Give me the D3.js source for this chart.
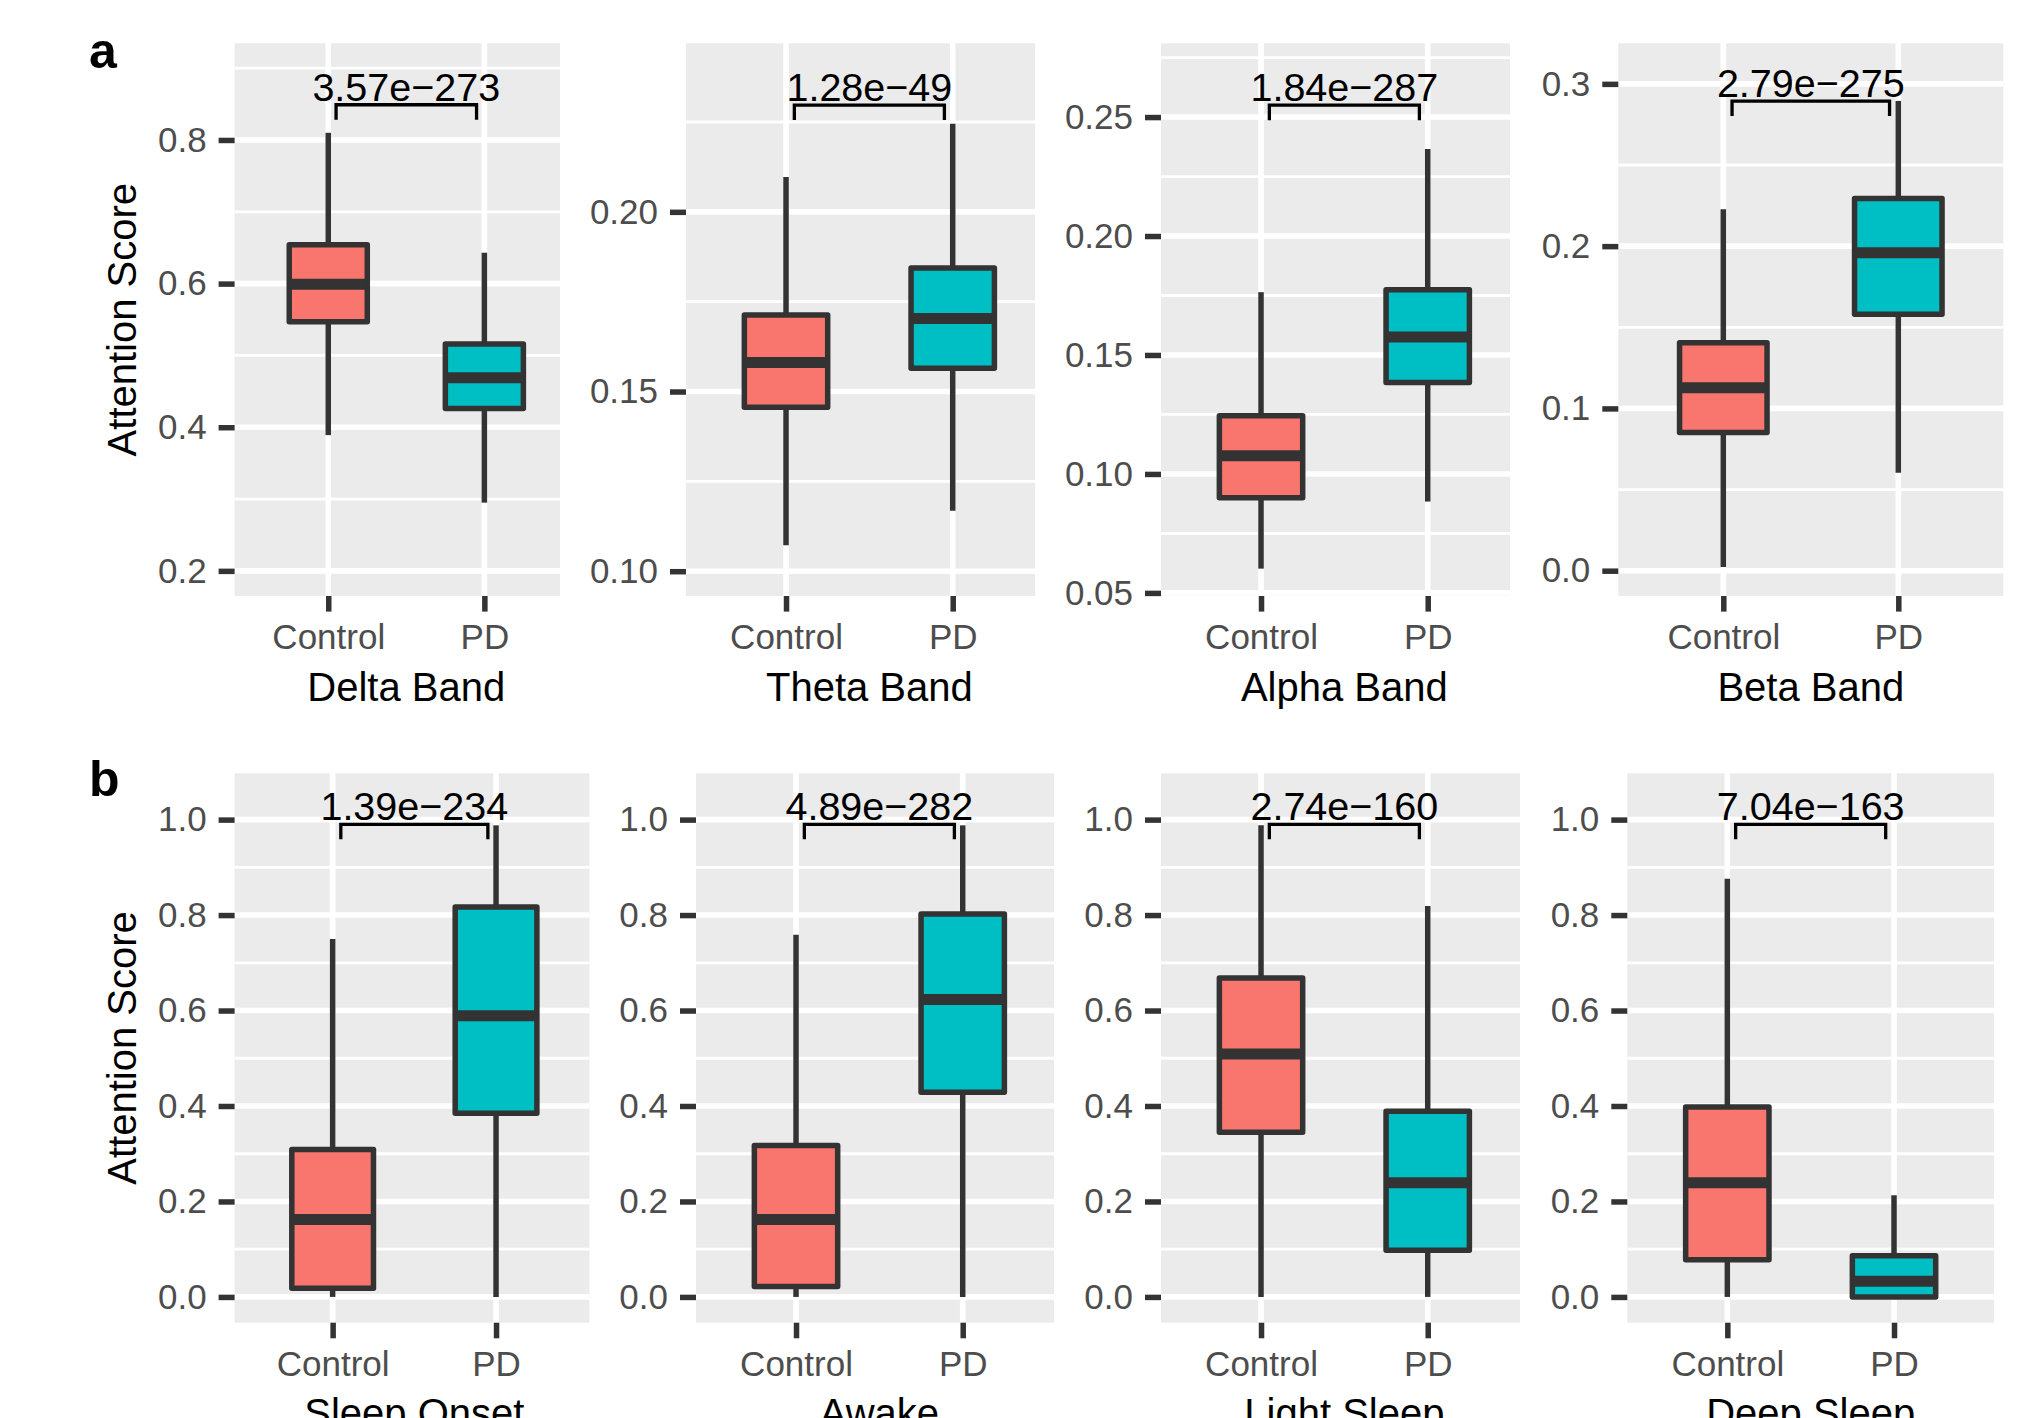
<!DOCTYPE html>
<html>
<head>
<meta charset="utf-8">
<script src="https://cdn.jsdelivr.net/npm/d3@7/dist/d3.min.js"></script>
<style>
  html, body { margin: 0; padding: 0; background: #fff; }
  svg { display: block; font-family: "Liberation Sans", Arial, Helvetica, sans-serif; }
</style>
</head>
<body>
<svg id="chart" width="2017" height="1418"></svg>
<script>
// Groups compared in every panel
const categories = ["Control", "PD"];

// Panel titles (x-axis titles)
const panelTitles = ["Delta Band", "Theta Band", "Alpha Band", "Beta Band",
                     "Sleep Onset", "Awake", "Light Sleep", "Deep Sleep"];

// Wilcoxon p-values shown above each pair
const pValues = ["3.57e\u2212273", "1.28e\u221249", "1.84e\u2212287", "2.79e\u2212275",
                 "1.39e\u2212234", "4.89e\u2212282", "2.74e\u2212160", "7.04e\u2212163"];

// Box statistics: [lower whisker, Q1, median, Q3, upper whisker]
const controlStats = [
  [0.389, 0.547, 0.599, 0.654, 0.810],
  [0.1072, 0.1456, 0.1581, 0.1713, 0.2097],
  [0.0602, 0.0900, 0.1076, 0.1245, 0.1764],
  [0.0022, 0.0851, 0.1127, 0.1405, 0.2228],
  [0.000, 0.018, 0.162, 0.309, 0.750],
  [0.000, 0.022, 0.162, 0.317, 0.759],
  [0.000, 0.345, 0.509, 0.668, 0.988],
  [0.000, 0.078, 0.239, 0.398, 0.876]
];
const pdStats = [
  [0.295, 0.426, 0.469, 0.516, 0.643],
  [0.1168, 0.1565, 0.1703, 0.1844, 0.2245],
  [0.0884, 0.1384, 0.1576, 0.1774, 0.2366],
  [0.0604, 0.1581, 0.1960, 0.2293, 0.2895],
  [0.000, 0.385, 0.589, 0.817, 0.988],
  [0.000, 0.429, 0.623, 0.802, 0.988],
  [0.000, 0.098, 0.239, 0.389, 0.819],
  [0.000, 0.000, 0.033, 0.086, 0.213]
];

// Height of the significance bracket (data units)
const bracketY = [0.849, 0.2297, 0.255, 0.2894, 0.990, 0.990, 0.990, 0.990];

// Y axis ranges
const yDomains = [
  [0.165, 0.9346], [0.0931, 0.2469], [0.0487, 0.281], [-0.0156, 0.325],
  [-0.054, 1.097], [-0.054, 1.097], [-0.054, 1.097], [-0.054, 1.097]
];

// Major ticks, their labels, and minor grid positions
const sleepTicks = [0, 0.2, 0.4, 0.6, 0.8, 1.0];
const sleepLabels = ["0.0", "0.2", "0.4", "0.6", "0.8", "1.0"];
const sleepMinor = [0.1, 0.3, 0.5, 0.7, 0.9];
const yTicks = [
  [0.2, 0.4, 0.6, 0.8], [0.10, 0.15, 0.20], [0.05, 0.10, 0.15, 0.20, 0.25], [0.0, 0.1, 0.2, 0.3],
  sleepTicks, sleepTicks, sleepTicks, sleepTicks
];
const yTickLabels = [
  ["0.2", "0.4", "0.6", "0.8"], ["0.10", "0.15", "0.20"],
  ["0.05", "0.10", "0.15", "0.20", "0.25"], ["0.0", "0.1", "0.2", "0.3"],
  sleepLabels, sleepLabels, sleepLabels, sleepLabels
];
const yMinor = [
  [0.3, 0.5, 0.7, 0.9], [0.125, 0.175, 0.225], [0.075, 0.125, 0.175, 0.225, 0.275], [0.05, 0.15, 0.25],
  sleepMinor, sleepMinor, sleepMinor, sleepMinor
];

// Panel geometry in pixels
const rowA = { top: 43.3, bottom: 596 };
const rowB = { top: 773.3, bottom: 1322.7 };
const layout = [
  { left: 234.6, right: 560,    step: 156.1, ...rowA },
  { left: 686,   right: 1035,   step: 166.7, ...rowA },
  { left: 1161,  right: 1510,   step: 166.7, ...rowA },
  { left: 1618.3, right: 2003.3, step: 175,  ...rowA },
  { left: 234.6, right: 589.4,  step: 163.4, ...rowB },
  { left: 696,   right: 1054,   step: 166.7, ...rowB },
  { left: 1161,  right: 1520,   step: 166.7, ...rowB },
  { left: 1627.3, right: 1994,  step: 166.7, ...rowB }
];

const fills = d3.scaleOrdinal().domain(categories).range(["#F8766D", "#00BFC4"]);
const ink = "#333333";
const lw = 5.5;

const svg = d3.select("#chart");

layout.forEach((p, i) => {
  const g = svg.append("g");
  // discrete x positions 1 and 2, with 0.6 units of padding on the left
  const x = d3.scaleLinear()
    .domain([0.4, 0.4 + (p.right - p.left) / p.step])
    .range([p.left, p.right]);
  const y = d3.scaleLinear().domain(yDomains[i]).range([p.bottom, p.top]);
  const xc = c => x(categories.indexOf(c) + 1);

  // panel background
  g.append("rect")
    .attr("x", p.left).attr("y", p.top)
    .attr("width", p.right - p.left).attr("height", p.bottom - p.top)
    .attr("fill", "#EBEBEB");

  // minor grid
  g.selectAll(".minor").data(yMinor[i]).join("line")
    .attr("x1", p.left).attr("x2", p.right)
    .attr("y1", d => y(d)).attr("y2", d => y(d))
    .attr("stroke", "#fff").attr("stroke-width", 2.8);

  // major grid
  g.selectAll(".majorY").data(yTicks[i]).join("line")
    .attr("x1", p.left).attr("x2", p.right)
    .attr("y1", d => y(d)).attr("y2", d => y(d))
    .attr("stroke", "#fff").attr("stroke-width", 5.6);
  g.selectAll(".majorX").data(categories).join("line")
    .attr("x1", d => xc(d)).attr("x2", d => xc(d))
    .attr("y1", p.top).attr("y2", p.bottom)
    .attr("stroke", "#fff").attr("stroke-width", 5.6);

  // y axis ticks and labels
  const yAxis = d3.axisLeft(y).tickValues(yTicks[i])
    .tickFormat((d, k) => yTickLabels[i][k])
    .tickSize(16).tickPadding(12);
  const ya = g.append("g").attr("transform", `translate(${p.left},0)`).call(yAxis);
  ya.select(".domain").remove();
  ya.selectAll(".tick line").attr("stroke", ink).attr("stroke-width", lw);
  ya.selectAll(".tick text").attr("fill", "#4D4D4D").attr("font-size", 35)
    .attr("font-family", "Liberation Sans, Arial, sans-serif");

  // x axis ticks and labels
  const xAxis = d3.axisBottom(x).tickValues([1, 2])
    .tickFormat(d => categories[d - 1])
    .tickSize(15.6).tickPadding(13);
  const xa = g.append("g").attr("transform", `translate(0,${p.bottom})`).call(xAxis);
  xa.select(".domain").remove();
  xa.selectAll(".tick line").attr("stroke", ink).attr("stroke-width", lw);
  xa.selectAll(".tick text").attr("fill", "#4D4D4D").attr("font-size", 35)
    .attr("font-family", "Liberation Sans, Arial, sans-serif");

  // boxes
  const stats = [
    { cat: categories[0], s: controlStats[i] },
    { cat: categories[1], s: pdStats[i] }
  ];
  const half = 0.25 * p.step;
  const boxes = g.selectAll(".box").data(stats).join("g");
  boxes.append("line")
    .attr("x1", d => xc(d.cat)).attr("x2", d => xc(d.cat))
    .attr("y1", d => y(d.s[0])).attr("y2", d => y(d.s[1]))
    .attr("stroke", ink).attr("stroke-width", lw);
  boxes.append("line")
    .attr("x1", d => xc(d.cat)).attr("x2", d => xc(d.cat))
    .attr("y1", d => y(d.s[3])).attr("y2", d => y(d.s[4]))
    .attr("stroke", ink).attr("stroke-width", lw);
  boxes.append("rect")
    .attr("x", d => xc(d.cat) - half)
    .attr("y", d => y(d.s[3]))
    .attr("width", 2 * half)
    .attr("height", d => y(d.s[1]) - y(d.s[3]))
    .attr("fill", d => fills(d.cat))
    .attr("stroke", ink).attr("stroke-width", lw)
    .attr("stroke-linejoin", "round");
  boxes.append("line")
    .attr("x1", d => xc(d.cat) - half).attr("x2", d => xc(d.cat) + half)
    .attr("y1", d => y(d.s[2])).attr("y2", d => y(d.s[2]))
    .attr("stroke", ink).attr("stroke-width", 11);

  // significance bracket
  const by = y(bracketY[i]);
  const tip = 15;
  const bx1 = x(1.05), bx2 = x(1.95);
  g.append("path")
    .attr("d", `M${bx1},${by + tip}V${by}H${bx2}V${by + tip}`)
    .attr("fill", "none").attr("stroke", "#000").attr("stroke-width", 3.3);
  g.append("text")
    .attr("x", x(1.5)).attr("y", by - 4)
    .attr("text-anchor", "middle")
    .attr("font-size", 39.5).attr("fill", "#000")
    .text(pValues[i]);

  // x axis title
  g.append("text")
    .attr("x", x(1.5)).attr("y", p.bottom + 104.5)
    .attr("text-anchor", "middle")
    .attr("font-size", 40).attr("fill", "#000")
    .text(panelTitles[i]);

  // y axis title on the first panel of each row
  if (i % 4 === 0) {
    const cy = (p.top + p.bottom) / 2;
    g.append("text")
      .attr("transform", `translate(136,${cy}) rotate(-90)`)
      .attr("text-anchor", "middle")
      .attr("font-size", 40).attr("fill", "#000")
      .text("Attention Score");
  }
});

// row letters
svg.append("text").attr("x", 89).attr("y", 68)
  .attr("font-size", 50).attr("font-weight", "bold").text("a");
svg.append("text").attr("x", 89).attr("y", 795.5)
  .attr("font-size", 50).attr("font-weight", "bold").text("b");
</script>
</body>
</html>
